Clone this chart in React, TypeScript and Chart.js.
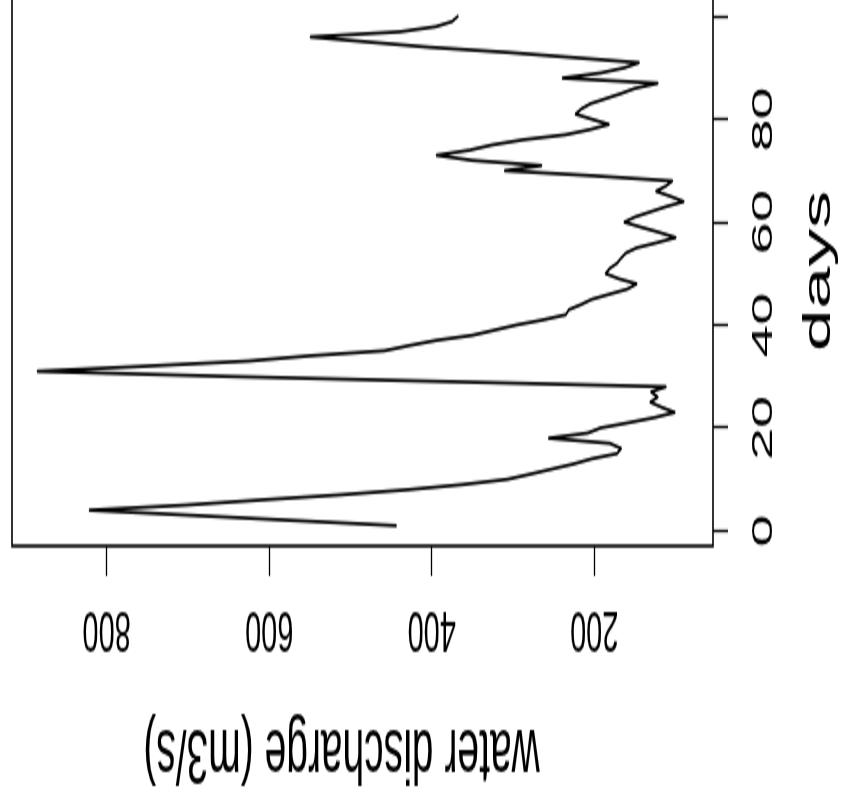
import React, { useEffect, useRef } from 'react';
import { Chart, registerables } from 'chart.js';

Chart.register(...registerables);

// ---- data ----
const days = [
  1, 2, 3, 4, 5, 6, 7, 8, 9, 10,
  11, 12, 13, 14, 15, 16, 17, 18, 19, 20,
  21, 22, 23, 24, 25, 26, 27, 28, 29, 30,
  31, 32, 33, 34, 35, 36, 37, 38, 39, 40,
  41, 42, 43, 44, 45, 46, 47, 48, 49, 50,
  51, 52, 53, 54, 55, 56, 57, 58, 59, 60,
  61, 62, 63, 64, 65, 66, 67, 68, 69, 70,
  71, 72, 73, 74, 75, 76, 77, 78, 79, 80,
  81, 82, 83, 84, 85, 86, 87, 88, 89, 90,
  91, 92, 93, 94, 95, 96, 97, 98, 99, 100,
];

const discharge = [
  444, 570, 695, 821, 702, 609, 511, 428, 361, 307,
  279, 252, 225, 203, 172, 167, 181, 256, 208, 192,
  158, 126, 101, 117, 131, 122, 130, 112, 382, 650,
  885, 752, 625, 551, 458, 428, 395, 350, 323, 296,
  263, 235, 231, 216, 203, 181, 159, 148, 170, 186,
  181, 172, 167, 161, 148, 123, 100, 120, 142, 163,
  150, 131, 112, 90, 106, 124, 112, 104, 200, 310,
  265, 350, 394, 353, 326, 288, 235, 205, 182, 203,
  223, 216, 205, 186, 167, 150, 122, 239, 192, 163,
  145, 226, 307, 403, 477, 549, 439, 395, 375, 368,
];

const xTickValues = [0, 20, 40, 60, 80, 100];
const xTickLabels = ['0', '20', '40', '60', '80', ''];
const yTickValues = [200, 400, 600, 800];
const yTickLabels = ['200', '400', '600', '800'];
const xTitle = 'days';
const yTitle = 'water discharge (m3/s)';

const FONT = '"Liberation Sans", Arial, Helvetica, sans-serif';

export default function App() {
  const ref = useRef<HTMLCanvasElement | null>(null);

  useEffect(() => {
    const canvas = ref.current;
    if (!canvas) return;

    const rPlotPlugin = {
      id: 'rPlotDecor',
      afterDraw(chart: any) {
        const { ctx, chartArea: a, scales } = chart;
        ctx.save();
        // plot box
        ctx.strokeStyle = '#000';
        ctx.lineWidth = 1.6;
        ctx.strokeRect(a.left, a.top, a.right - a.left, a.bottom - a.top);
        // y tick labels (parallel to axis, like R's las=0)
        ctx.fillStyle = '#000';
        ctx.font = `29px ${FONT}`;
        ctx.textAlign = 'center';
        ctx.textBaseline = 'alphabetic';
        yTickValues.forEach((v, i) => {
          const py = scales.y.getPixelForValue(v);
          ctx.save();
          ctx.translate(97, py);
          ctx.rotate(-Math.PI / 2);
          ctx.fillText(yTickLabels[i], 0, 0);
          ctx.restore();
        });
        // y axis title
        ctx.font = `39px ${FONT}`;
        ctx.save();
        ctx.translate(38, (a.top + a.bottom) / 2 - 21);
        ctx.rotate(-Math.PI / 2);
        ctx.fillText(yTitle, 0, 0);
        ctx.restore();
        ctx.restore();
      },
    };

    const gridOpts = {
      display: true,
      drawOnChartArea: false,
      drawTicks: true,
      tickLength: 15,
      tickColor: '#000',
      tickWidth: 1.3,
    };

    const chart = new Chart(canvas, {
      type: 'line',
      data: {
        datasets: [
          {
            data: days.map((d, i) => ({ x: d, y: discharge[i] })),
            borderColor: '#000',
            borderWidth: 1.7,
            pointRadius: 0,
            fill: false,
            tension: 0,
            borderJoinStyle: 'round',
            borderCapStyle: 'round',
          },
        ],
      },
      options: {
        animation: false,
        responsive: false,
        devicePixelRatio: 1,
        layout: { padding: { top: 12, left: 0, right: 0, bottom: 0 } },
        plugins: {
          legend: { display: false },
          tooltip: { enabled: false },
        },
        scales: {
          x: {
            type: 'linear',
            position: 'bottom',
            min: -2.96,
            max: 103.96,
            afterBuildTicks: (s: any) => {
              s.ticks = xTickValues.map((value) => ({ value }));
            },
            afterFit: (s: any) => {
              s.height = 137;
              s.paddingLeft = 0;
              s.paddingRight = 0;
            },
            ticks: {
              autoSkip: false,
              maxRotation: 0,
              minRotation: 0,
              padding: 19,
              color: '#000',
              font: { size: 29, family: FONT },
              callback: (_v: any, i: number) => xTickLabels[i],
            },
            grid: gridOpts,
            border: { display: false },
            title: {
              display: true,
              text: xTitle,
              color: '#000',
              font: { size: 38, family: FONT },
              padding: { top: 0, bottom: 8 },
            },
          },
          y: {
            type: 'linear',
            position: 'left',
            min: 53.9,
            max: 916.5,
            afterBuildTicks: (s: any) => {
              s.ticks = yTickValues.map((value) => ({ value }));
            },
            afterFit: (s: any) => {
              s.width = 130;
              s.paddingTop = 0;
              s.paddingBottom = 0;
            },
            ticks: { display: false },
            grid: gridOpts,
            border: { display: false },
          },
        },
      } as any,
      plugins: [rPlotPlugin],
    });

    return () => chart.destroy();
  }, []);

  return (
    <div
      style={{
        position: 'absolute',
        left: 0,
        top: 0,
        width: 850,
        height: 806,
        overflow: 'hidden',
        background: '#fff',
      }}
    >
      <canvas
        ref={ref}
        width={405}
        height={850}
        style={{
          position: 'absolute',
          left: 0,
          top: 806,
          width: 405,
          height: 850,
          transformOrigin: '0 0',
          transform: 'rotate(-90deg) scaleX(2)',
        }}
      />
    </div>
  );
}
